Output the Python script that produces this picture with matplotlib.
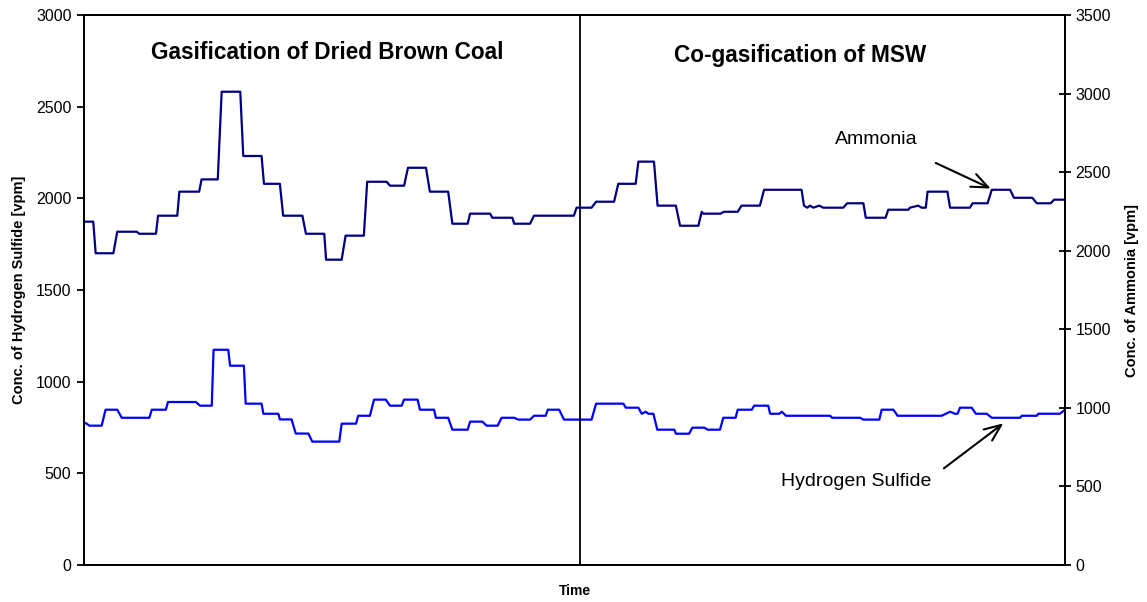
import matplotlib
matplotlib.use("Agg")
import matplotlib.pyplot as plt

plt.rcParams["font.family"] = ["Liberation Sans", "DejaVu Sans"]

# time axis (arbitrary minutes, no tick labels in the original)
t_nh3 = [0, 3.1, 3.9, 9.8, 11.1, 17.6, 18.4, 24, 24.7, 31.1, 31.8, 38.4, 39.2, 44.6,
         45.9, 52.1, 53.1, 59.2, 60, 65.3, 66.4, 72.8, 74, 80.1, 80.7, 85.9, 87.2,
         93.3, 94.4, 100.9, 102, 106.7, 108, 114, 115.3, 121.4, 122.8, 127.9, 128.7,
         135.4, 136.1, 142.8, 143.4, 148.7, 150, 163.3, 164.2, 169.2, 170.7, 176.7,
         178.1, 183.9, 184.8, 190, 191.2, 197.3, 198.7, 204.8, 205.9, 206.4, 212.2,
         213.3, 217.9, 219.2, 225.3, 226.7, 239.2, 240, 241.1, 242, 243.1, 245.1,
         246.4, 253.1, 254.4, 259.8, 260.6, 267.2, 268.1, 274.8, 275.3, 278.1, 279.2,
         280.6, 281.2, 287.8, 288.7, 295.3, 296.2, 301.2, 302.6, 308.7, 310, 316.1,
         317.6, 322.2, 323.4, 327]
nh3 = [2185, 2185, 1984, 1984, 2121, 2121, 2108, 2108, 2223, 2223, 2376, 2376, 2454, 2454,
       3012, 3012, 2603, 2603, 2426, 2426, 2223, 2223, 2108, 2108, 1943, 1943, 2096,
       2096, 2439, 2439, 2414, 2414, 2528, 2528, 2376, 2376, 2172, 2172, 2236,
       2236, 2210, 2210, 2172, 2172, 2223, 2223, 2274, 2274, 2312, 2312,
       2426, 2426, 2567, 2567, 2287, 2287, 2159, 2159, 2248, 2236, 2236,
       2248, 2248, 2287, 2287, 2388, 2388, 2287, 2274, 2287, 2274, 2287,
       2274, 2274, 2302, 2302, 2210, 2210, 2261, 2261, 2274, 2287, 2274,
       2274, 2376, 2376, 2274, 2274, 2302, 2302, 2388, 2388, 2337, 2337,
       2302, 2302, 2325, 2325]

t_h2s = [0, 0.7, 1.8, 5.9, 7.2, 11.1, 12.6, 21.8, 22.6, 27.3, 28, 37.3, 38.7, 42.6, 43.2,
         48.1, 48.7, 53.3, 53.9, 59.2, 59.8, 64.8, 65.3, 69.2, 70.6, 74.8, 76.1, 85.1,
         85.9, 90.7, 91.4, 95.3, 96.7, 100.6, 102, 105.9, 106.7, 111.2, 112, 116.7,
         117.3, 121.4, 122.8, 127.9, 128.7, 132.8, 134.2, 137.9, 139.2, 143.4, 144.8,
         148.7, 150, 153.9, 154.6, 158.4, 160, 169.2, 170.7, 179.8, 180.6, 184.8,
         185.9, 187.3, 188.1, 189.8, 191.1, 196.8, 197.3, 201.7, 202.8, 206.8, 207.9,
         212, 213.1, 217.2, 217.9, 222.6, 223.4, 228.1, 228.7, 231.8, 232.6, 234,
         248.7, 249.4, 258.7, 259.8, 265.1, 265.9, 269.8, 271.2, 285.9, 287.3, 288.7,
         290.3, 291.2, 292, 295.9, 297.3, 300.9, 302.6, 312, 312.6, 317.6, 318.1,
         325.3, 327]
h2s = [773, 773, 760, 760, 847, 847, 803, 803, 847, 847, 889, 889, 869, 869, 1174,
       1174, 1087, 1087, 880, 880, 825, 825, 794, 794, 717, 717, 673, 673,
       771, 771, 814, 814, 902, 902, 869, 869, 902, 902, 847, 847,
       803, 803, 738, 738, 782, 782, 760, 760, 803, 803, 793,
       793, 814, 814, 847, 847, 793, 793, 880, 880, 858, 858,
       825, 836, 825, 825, 738, 738, 716, 716, 749, 749, 738,
       738, 803, 803, 847, 847, 869, 869, 825, 825, 836, 814,
       814, 803, 803, 793, 793, 847, 847, 814, 814, 825,
       836, 825, 825, 858, 858, 825, 825, 803, 803, 814, 814, 825,
       825, 847]

t_split = 165.3
panel_titles = ["Gasification of Dried Brown Coal", "Co-gasification of MSW"]

fig = plt.figure(figsize=(11.47, 6.02), dpi=100)
ax = fig.add_axes([0.0732, 0.0615, 0.8553, 0.9135])
ax2 = ax.twinx()

ax.plot(t_h2s, h2s, color="#0000ff", lw=1.6)
ax2.plot(t_nh3, nh3, color="#000080", lw=1.6)
ax.axvline(t_split, color="black", lw=1.3)

ax.set_xlim(0, 327)
ax.set_ylim(0, 3000)
ax2.set_ylim(0, 3500)
ax.set_yticks(range(0, 3001, 500))
ax2.set_yticks(range(0, 3501, 500))
ax.set_xticks([])

for a in (ax, ax2):
    for s in a.spines.values():
        s.set_linewidth(1.3)
ax.tick_params(axis="y", direction="out", length=5, width=1.3, labelsize=11.5, pad=4)
ax2.tick_params(axis="y", direction="inout", length=9, width=1.3, labelsize=11.5, pad=3)

ax.set_xlabel("Time", fontsize=10, fontweight="bold", labelpad=14)
ax.set_ylabel("Conc. of Hydrogen Sulfide [vpm]", fontsize=10.5, fontweight="bold", labelpad=7)
ax2.set_ylabel("Conc. of Ammonia [vpm]", fontsize=10.5, fontweight="bold", labelpad=10)

ax.text(81.2, 2798, panel_titles[0], fontsize=16.3, fontweight="bold", ha="center", va="center")
ax.text(238.7, 2782, panel_titles[1], fontsize=16.3, fontweight="bold", ha="center", va="center")

ax2.text(264, 2705, "Ammonia", fontsize=14, ha="center", va="center")
ax2.annotate("", xy=(303.1, 2388), xytext=(283.1, 2566),
             arrowprops=dict(arrowstyle="->,head_length=1.2,head_width=0.5", color="black", lw=1.5))
ax.text(257.3, 458, "Hydrogen Sulfide", fontsize=14, ha="center", va="center")
ax.annotate("", xy=(307.2, 782), xytext=(285.9, 518),
            arrowprops=dict(arrowstyle="->,head_length=1.2,head_width=0.5", color="black", lw=1.5))

fig.savefig("out.png", dpi=100)
